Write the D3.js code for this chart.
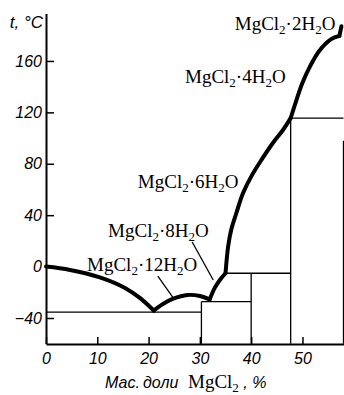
<!DOCTYPE html>
<html>
<head>
<meta charset="utf-8">
<script src="https://d3js.org/d3.v7.min.js"></script>
<style>
  body { margin: 0; background: #fff; }
  .axis text { font-family: "Liberation Sans", Arial, sans-serif; font-style: italic; font-size: 16px; fill: #000; }
  .axis path, .axis line { stroke: #000; }
</style>
</head>
<body>
<div id="chart"></div>
<script>
// liquidus branches: mass % MgCl2 vs t, °C
var iceX = [0, 4.7, 10.5, 15.4, 18.3, 21.0];
var iceT = [0, -2.6, -8.4, -16.6, -24.4, -34.2];
var h12X = [21.0, 22.8, 24.7, 27.6, 30.0, 31.9];
var h12T = [-34.2, -29.1, -25.2, -22.1, -22.9, -25.6];
var h8X = [31.9, 32.9, 33.9, 35.0];
var h8T = [-25.6, -16.6, -10.4, -5.2];
var h6X = [35.0, 35.5, 36.1, 37.1, 38.4, 40.0, 42.0, 44.2, 46.2, 47.7];
var h6T = [-5.2, 15.5, 28.5, 41.5, 57, 70, 83, 96, 106.3, 115.5];
var h4X = [47.7, 48.7, 50.0, 51.5, 53.3, 55.6, 57.2];
var h4T = [115.5, 128, 143, 156, 168, 177, 179.5];
var h2X = [57.2, 57.6];
var h2T = [179.5, 187];

// solid phase lines
var vertX = [30.3, 40.0, 47.7, 58];
var vertTop = [-27.3, -5.2, 115.5, 98];
var tieT = [-35.5, -27.3, -5.2, 115.5];
var tieFrom = [0, 30.3, 35.0, 47.7];
var tieTo = [30.3, 40.0, 47.7, 58];

// labels
var hydrateN = ["2", "4", "6", "8", "12"];
var hydrateX = [36.8, 27.1, 17.9, 12.1, 8.0];
var hydrateT = [184.1, 142.8, 61.2, 23.0, -3.8];
var leadX1 = [21.8, 28.5], leadT1 = [-7.5, 19.1];
var leadX2 = [24.8, 32.6], leadT2 = [-24.4, -10.4];

var xTicks = [0, 10, 20, 30, 40, 50];
var yTicks = [-40, 0, 40, 80, 120, 160];

var width = 344, height = 395;

var svg = d3.select("#chart").append("svg")
    .attr("width", width)
    .attr("height", height);

var x = d3.scaleLinear().domain([0, 58]).range([46, 343.5]);
var y = d3.scaleLinear().domain([-60, 197]).range([343.7, 13.4]);

// phase lines
var thin = svg.append("g").attr("stroke", "#000").attr("stroke-width", 1.3);
vertX.forEach(function(v, i) {
  thin.append("line")
      .attr("x1", x(v)).attr("x2", x(v))
      .attr("y1", y(-60)).attr("y2", y(vertTop[i]));
});
tieT.forEach(function(t, i) {
  thin.append("line")
      .attr("x1", x(tieFrom[i])).attr("x2", x(tieTo[i]))
      .attr("y1", y(t)).attr("y2", y(t));
});
leadX1.forEach(function(v, i) {
  thin.append("line")
      .attr("x1", x(v)).attr("y1", y(leadT1[i]))
      .attr("x2", x(leadX2[i])).attr("y2", y(leadT2[i]));
});

// axes
var yAxis = d3.axisLeft(y).tickValues(yTicks).tickSize(-8).tickSizeOuter(0).tickPadding(4);
var xAxis = d3.axisBottom(x).tickValues(xTicks).tickSize(-7).tickSizeOuter(0).tickPadding(9);

var gy = svg.append("g").attr("class", "axis").attr("transform", "translate(46,0)").call(yAxis);
gy.select(".domain").attr("stroke-width", 2);
gy.selectAll(".tick line").attr("stroke-width", 1.5);

var gx = svg.append("g").attr("class", "axis").attr("transform", "translate(0,344)").call(xAxis);
gx.select(".domain").attr("stroke-width", 2);
gx.selectAll(".tick line").attr("stroke-width", 1.5);

// liquidus
var line = d3.line()
    .x(function(d) { return x(d[0]); })
    .y(function(d) { return y(d[1]); })
    .curve(d3.curveCatmullRom.alpha(0.5));

[[iceX, iceT], [h12X, h12T], [h8X, h8T], [h6X, h6T], [h4X, h4T], [h2X, h2T]].forEach(function(b) {
  svg.append("path")
      .datum(b[0].map(function(v, i) { return [v, b[1][i]]; }))
      .attr("d", line)
      .attr("fill", "none")
      .attr("stroke", "#000")
      .attr("stroke-width", 4)
      .attr("stroke-linecap", "round")
      .attr("stroke-linejoin", "round");
});

// hydrate labels
var serif = "'Liberation Serif', 'Times New Roman', serif";
function formula(t, n) {
  t.append("tspan").text("MgCl");
  t.append("tspan").attr("dy", 4).attr("font-size", 13).text("2");
  t.append("tspan").attr("dy", -4).text("·" + n + "H");
  t.append("tspan").attr("dy", 4).attr("font-size", 13).text("2");
  t.append("tspan").attr("dy", -4).text("O");
}

hydrateN.forEach(function(n, i) {
  var t = svg.append("text")
      .attr("x", x(hydrateX[i]))
      .attr("y", y(hydrateT[i]))
      .attr("font-family", serif)
      .attr("font-size", 19)
      .attr("fill", "#000");
  formula(t, n);
});

// axis titles
svg.append("text")
    .attr("x", 43).attr("y", 28)
    .attr("text-anchor", "end")
    .attr("font-family", "'Liberation Sans', Arial, sans-serif")
    .attr("font-style", "italic")
    .attr("font-size", 17)
    .text("t, °C");

var xt = svg.append("text")
    .attr("y", 388)
    .attr("font-family", "'Liberation Sans', Arial, sans-serif")
    .attr("font-style", "italic")
    .attr("font-size", 16);
xt.append("tspan").attr("x", 105).text("Мас.");
xt.append("tspan").attr("x", 143).text("доли");
xt.append("tspan").attr("x", 188)
    .attr("font-family", serif)
    .attr("font-style", "normal").attr("font-size", 19).text("MgCl");
xt.append("tspan").attr("dy", 4)
    .attr("font-family", serif)
    .attr("font-style", "normal").attr("font-size", 13).text("2");
xt.append("tspan").attr("dy", -4).text(" , %");
</script>
</body>
</html>
